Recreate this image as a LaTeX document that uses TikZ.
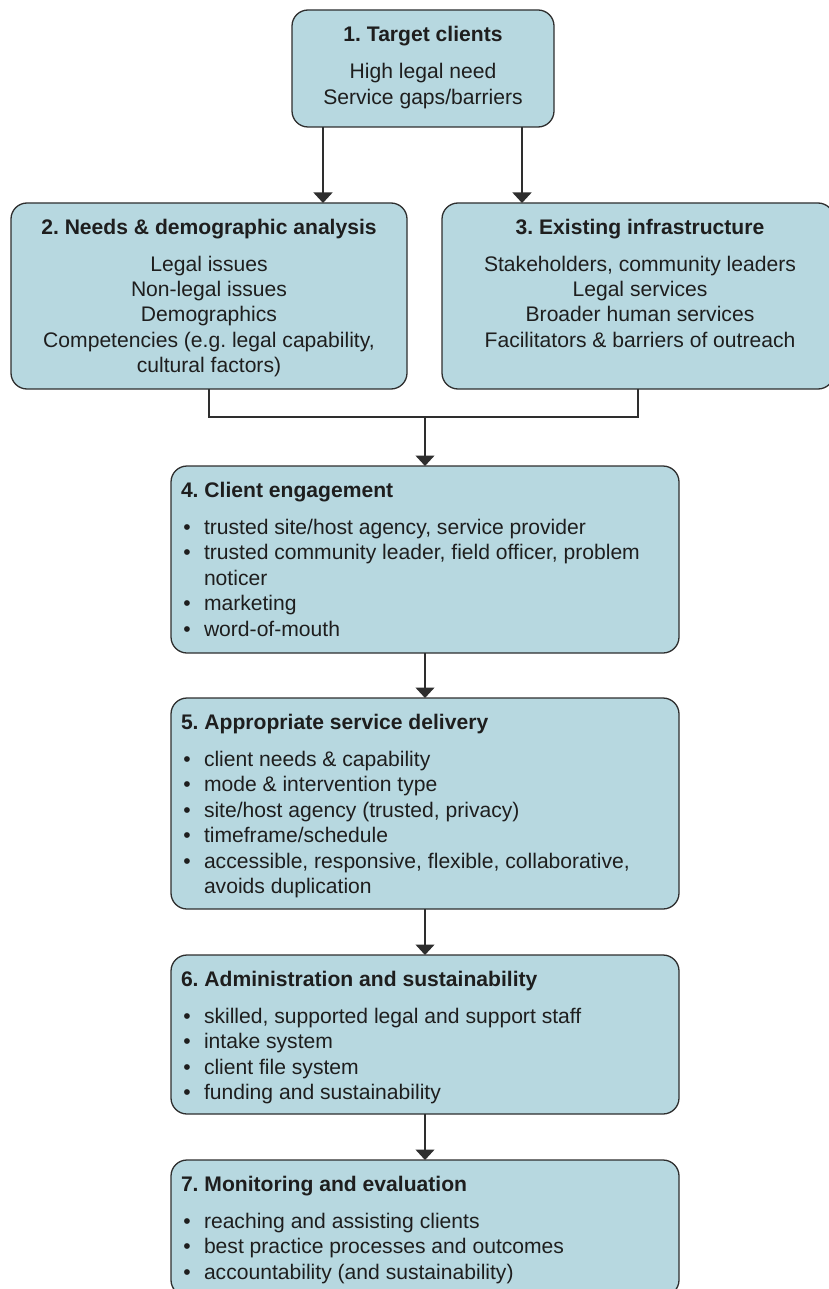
\documentclass[tikz,border=0pt]{standalone}
\usepackage{fontspec}
\setmainfont{Liberation Sans}
\usetikzlibrary{arrows.meta}
\frenchspacing
\definecolor{boxfill}{HTML}{B7D8E0}
\definecolor{boxline}{HTML}{2E2E2E}
\definecolor{txtcol}{HTML}{1E1E1E}
\tikzset{
  box/.style={draw=boxline, fill=boxfill, line width=1.3pt, rounded corners=16pt, inner sep=0pt, outer sep=0pt},
  txt/.style={inner sep=0pt, outer sep=0pt, text=txtcol, font=\fontsize{21.1}{25}\selectfont},
  ttl/.style={txt, font=\fontsize{21.1}{25}\selectfont\bfseries},
  conn/.style={draw=boxline, line width=1.3pt},
  arr/.style={conn, -{Triangle[width=19pt,length=10.5pt]}}
}
\newcommand\bitem[3]{%
  \node[txt, anchor=base] (#1b) at (187,#2) {\textbullet};
  \node[txt, anchor=base west] (#1) at (204,#2) {#3};}
\newcommand\bcont[3]{%
  \node[txt, anchor=base west] (#1) at (204,#2) {#3};}
\begin{document}
\begin{tikzpicture}[x=1pt, y=-1pt]
\useasboundingbox (0,0) rectangle (829,1289);

% boxes
\node[box, minimum width=262pt, minimum height=117pt] (b1) at (423,68.5) {};
\node[box, minimum width=396pt, minimum height=186pt] (b2) at (209,296) {};
\node[box, minimum width=392pt, minimum height=186pt] (b3) at (638,296) {};
\node[box, minimum width=508pt, minimum height=187pt] (b4) at (425,559.5) {};
\node[box, minimum width=508pt, minimum height=211pt] (b5) at (425,803.5) {};
\node[box, minimum width=508pt, minimum height=159pt] (b6) at (425,1034.5) {};
\node[box, minimum width=508pt, minimum height=136pt] (b7) at (425,1228) {};

% box 1 text
\node[ttl, anchor=base] (t1) at (423,42) {1. Target clients};
\node[txt, anchor=base] (t1a) at (423,79) {High legal need};
\node[txt, anchor=base] (t1b) at (423,104.5) {Service gaps/barriers};

% box 2 text
\node[ttl, anchor=base] (t2) at (209,234) {2. Needs \& demographic analysis};
\foreach \t [count=\i] in {{Legal issues},{Non-legal issues},{Demographics},{Competencies (e.g. legal capability,},{cultural factors)}}
  \node[txt, anchor=base] (t2l\i) at (209,{271+25.4*(\i-1)}) {\t};

% box 3 text
\node[ttl, anchor=base] (t3) at (640,234) {3. Existing infrastructure};
\foreach \t [count=\i] in {{Stakeholders, community leaders},{Legal services},{Broader human services},{Facilitators \& barriers of outreach}}
  \node[txt, anchor=base] (t3l\i) at (640,{271+25.4*(\i-1)}) {\t};

% box 4 text
\node[ttl, anchor=base west] (t4) at (181,497) {4. Client engagement};
\bitem{t4a}{534}{trusted site/host agency, service provider}
\bitem{t4b}{559.5}{trusted community leader, field officer, problem}
\bcont{t4c}{585}{noticer}
\bitem{t4d}{610.5}{marketing}
\bitem{t4e}{636}{word-of-mouth}

% box 5 text
\node[ttl, anchor=base west] (t5) at (181,729) {5. Appropriate service delivery};
\bitem{t5a}{766}{client needs \& capability}
\bitem{t5b}{791.5}{mode \& intervention type}
\bitem{t5c}{817}{site/host agency (trusted, privacy)}
\bitem{t5d}{842.5}{timeframe/schedule}
\bitem{t5e}{868}{accessible, responsive, flexible, collaborative,}
\bcont{t5f}{893.5}{avoids duplication}

% box 6 text
\node[ttl, anchor=base west] (t6) at (181,986) {6. Administration and sustainability};
\bitem{t6a}{1023}{skilled, supported legal and support staff}
\bitem{t6b}{1048.5}{intake system}
\bitem{t6c}{1074}{client file system}
\bitem{t6d}{1099.5}{funding and sustainability}

% box 7 text
\node[ttl, anchor=base west] (t7) at (181,1191) {7. Monitoring and evaluation};
\bitem{t7a}{1228}{reaching and assisting clients}
\bitem{t7b}{1253.5}{best practice processes and outcomes}
\bitem{t7c}{1279}{accountability (and sustainability)}

% connectors
\coordinate (cl) at (323,0);
\coordinate (cr) at (522,0);
\coordinate (m) at (425,417);
\draw[arr] (b1.south -| cl) -- (b2.north -| cl);
\draw[arr] (b1.south -| cr) -- (b3.north -| cr);
\draw[conn] (b2.south) |- (m) -| (b3.south);
\draw[arr] (m) -- (b4.north);
\draw[arr] (b4.south) -- (b5.north);
\draw[arr] (b5.south) -- (b6.north);
\draw[arr] (b6.south) -- (b7.north);
\end{tikzpicture}
\end{document}
